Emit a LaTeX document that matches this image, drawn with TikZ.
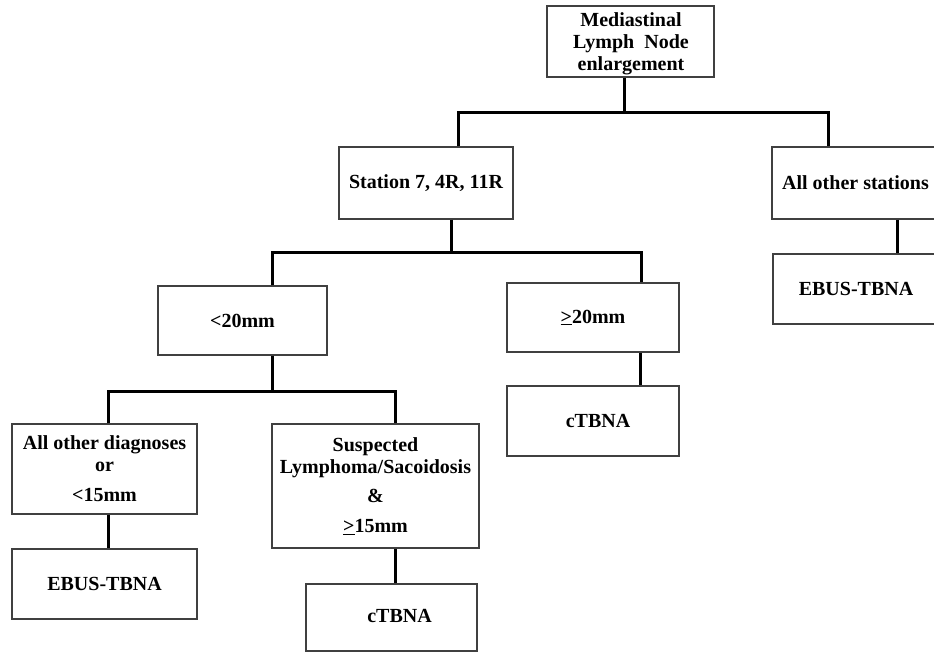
\documentclass[tikz,border=0pt]{standalone}
\usepackage{fontspec}
\setmainfont{Liberation Serif}
\begin{document}
\begin{tikzpicture}[x=1pt,y=-1pt,
  box/.style={draw=black!75, line width=1.1pt, inner sep=0pt, align=center,
    font=\bfseries\fontsize{20}{22}\selectfont},
  conn/.style={line width=3pt, black}]
\useasboundingbox (0,0) rectangle (934,653);
\clip (0,0) rectangle (934,653);

% boxes
\node[box, minimum width=167pt, minimum height=71pt] (top) at (630.5,41.5) {};
\node[font=\bfseries\fontsize{20}{22}\selectfont, align=center, inner sep=0pt] (toptext) at (631,44)
  {Mediastinal\\Lymph\ \ Node\\enlargement};
\node[box, minimum width=174pt, minimum height=72pt] (station) at (426,183)
  {Station 7, 4R, 11R};
\node[box, minimum width=167pt, minimum height=72pt] (others) at (855.5,183)
  {All other stations};
\node[box, minimum width=166pt, minimum height=70pt] (ebusR) at (856,289)
  {EBUS-TBNA};
\node[box, minimum width=169pt, minimum height=69pt] (lt20) at (242.5,320.5)
  {<20mm};
\node[box, minimum width=172pt, minimum height=69pt] (ge20) at (593,317.5)
  {\underline{>}20mm};
\node[box, minimum width=172pt, minimum height=70pt] (ctb1) at (593,421)
  {\hspace*{10pt}cTBNA};
\node[box, minimum width=185pt, minimum height=90pt] (aod) at (104.5,469)
  {All other diagnoses\\or\\[8pt]<15mm};
\node[box, minimum width=185pt, minimum height=70pt] (ebusL) at (104.5,584)
  {EBUS-TBNA};
\node[box, minimum width=207pt, minimum height=124pt] (susp) at (375.5,486)
  {Suspected\\Lymphoma/Sacoidosis\\[7pt]\&\\[8pt]\underline{>}15mm};
\node[box, minimum width=171pt, minimum height=67pt] (ctb2) at (391.5,617.5)
  {\raisebox{4pt}{\hspace*{16pt}cTBNA}};

% junctions
\coordinate (j1) at (624,112);
\coordinate (jL1) at (458,112);
\coordinate (jR1) at (828,112);
\coordinate (j2) at (451,252);
\coordinate (jL2) at (272,252);
\coordinate (jR2) at (641,252);
\coordinate (k1) at (640,370);
\coordinate (k2) at (897,240);
\coordinate (j3) at (272,391);
\coordinate (jL3) at (108,391);
\coordinate (jR3) at (395,391);

% connectors
\draw[conn] (top.south -| j1) -- (j1);
\draw[conn] (station.north -| jL1) -- (jL1) -- (jR1) -- (others.north -| jR1);
\draw[conn] (others.south -| k2) -- (ebusR.north -| k2);
\draw[conn] (station.south -| j2) -- (j2);
\draw[conn] (lt20.north -| jL2) -- (jL2) -- (jR2) -- (ge20.north -| jR2);
\draw[conn] (ge20.south -| k1) -- (ctb1.north -| k1);
\draw[conn] (lt20.south -| j3) -- (j3);
\draw[conn] (aod.north -| jL3) -- (jL3) -- (jR3) -- (susp.north -| jR3);
\draw[conn] (aod.south -| jL3) -- (ebusL.north -| jL3);
\draw[conn] (susp.south -| jR3) -- (ctb2.north -| jR3);
\end{tikzpicture}
\end{document}
